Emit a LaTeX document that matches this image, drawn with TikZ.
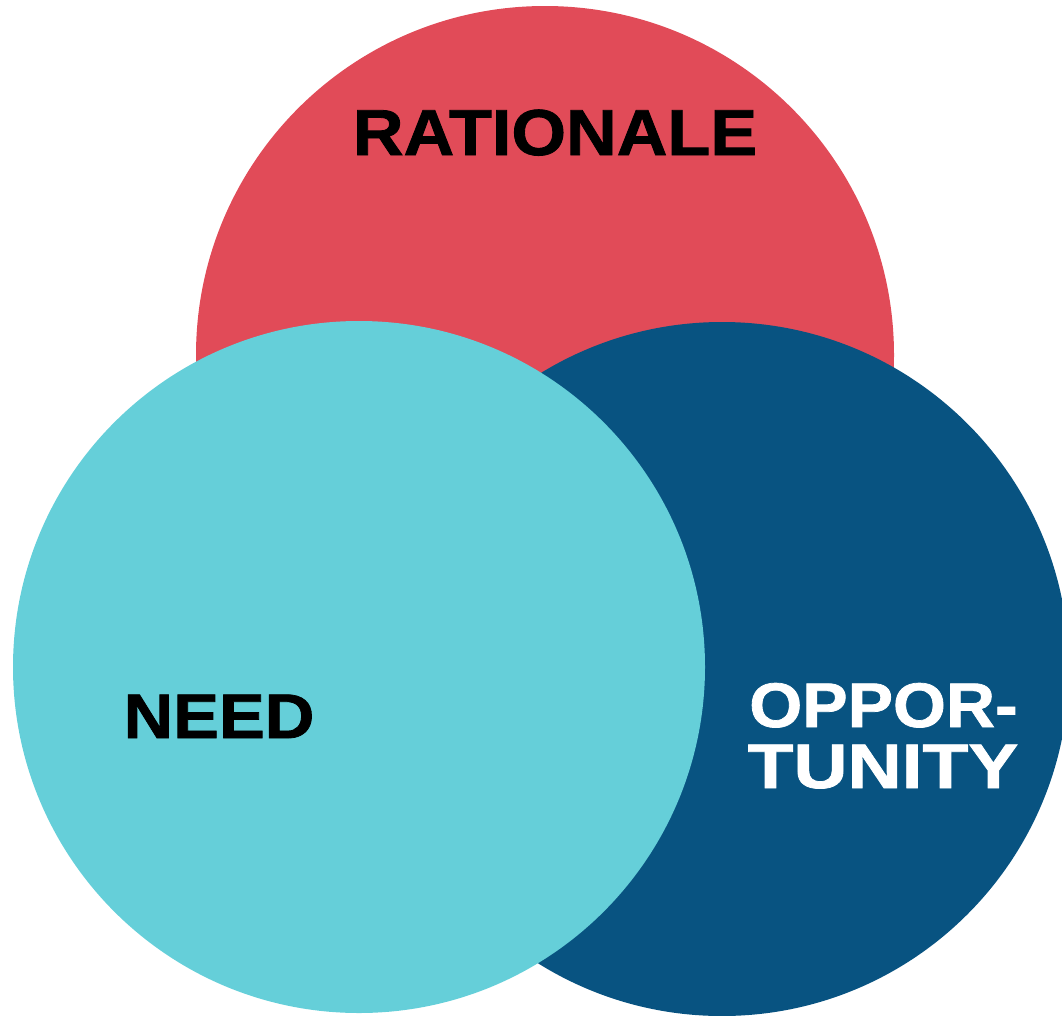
\documentclass[tikz,border=0pt]{standalone}
\usepackage{fontspec}
\setmainfont{Liberation Sans}
\newfontface\heavyface{Liberation Sans Bold}[FakeBold=1.2]
\definecolor{cred}{HTML}{E14B58}
\definecolor{ccyan}{HTML}{65CFD9}
\definecolor{cblue}{HTML}{085381}
\begin{document}
\begin{tikzpicture}[x=1pt,y=-1pt,
  lbl/.style={inner sep=0pt,anchor=base,font=\heavyface\fontsize{65}{70}\selectfont},
  lblsm/.style={lbl,font=\heavyface\fontsize{63}{70}\selectfont}]
\useasboundingbox (0,0) rectangle (1062,1015);
\clip (0,0) rectangle (1062,1015);
\fill[cred] (545,355) circle (349);
\fill[cblue] (722,669) circle (347);
\fill[ccyan] (359,667) circle (346);
\node[lbl,text=black] (rat) at (555,155) {\scalebox{1.08}[1]{RATIONALE}};
\node[lblsm,text=black] (need) at (219,738) {\scalebox{1.09}[1]{NEED}};
\node[lblsm,text=white] (opp) at (883.5,727) {\scalebox{1.08}[1]{OPPOR-}};
\node[lblsm,text=white] (tun) at (883,788) {\scalebox{1.19}[1]{TUNITY}};
\end{tikzpicture}
\end{document}
